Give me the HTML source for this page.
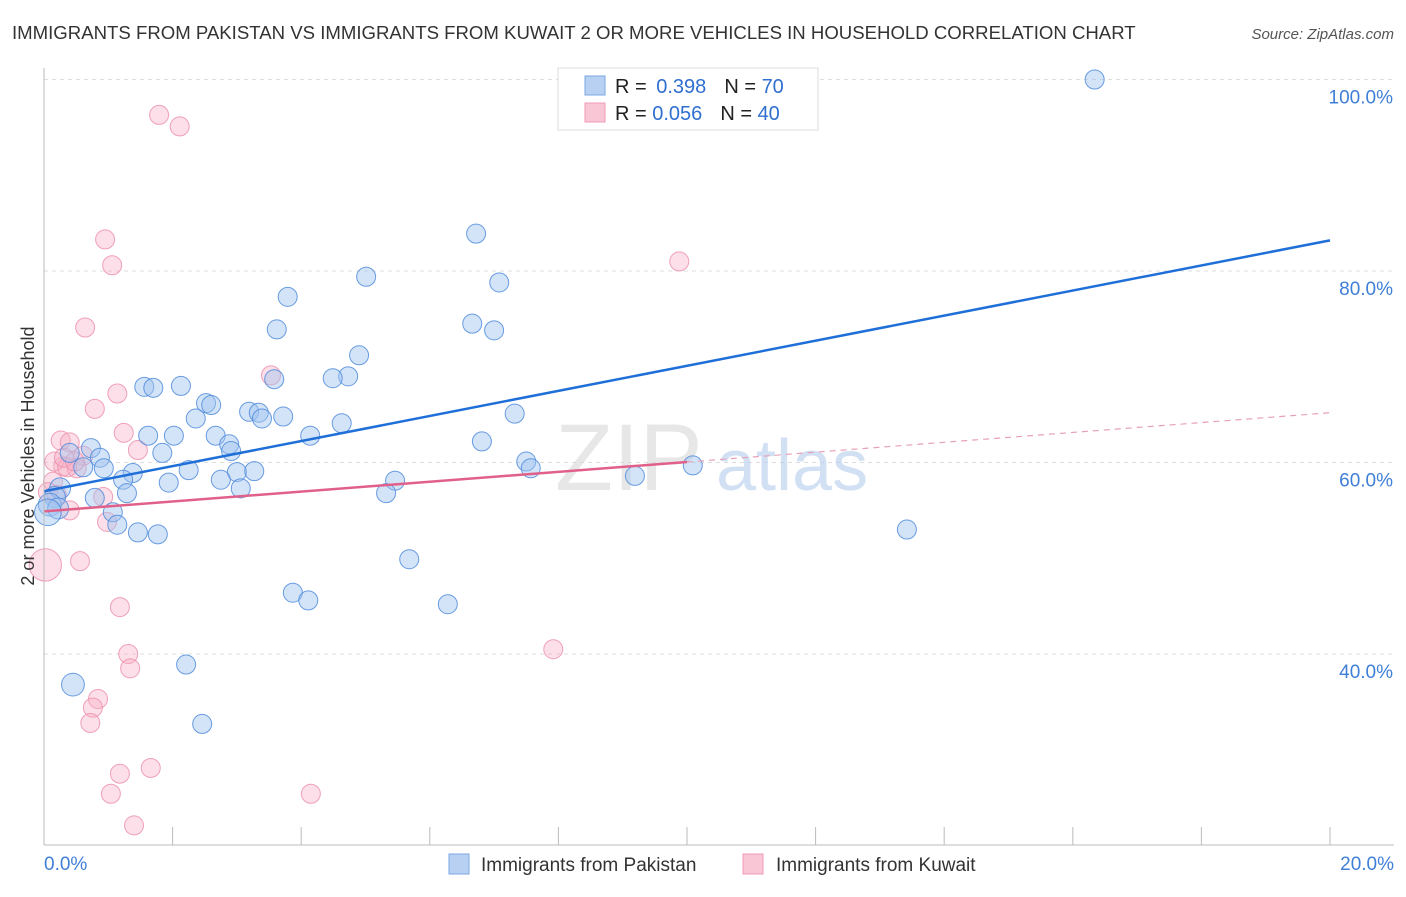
<!DOCTYPE html>
<html><head><meta charset="utf-8"><style>
body{margin:0;background:#fff;font-family:"Liberation Sans",sans-serif;}
svg text{font-family:"Liberation Sans",sans-serif;}
</style></head><body>
<svg id="chart" width="1406" height="892" viewBox="0 0 1406 892" xmlns="http://www.w3.org/2000/svg">
<text x="12" y="39" font-size="18.6" fill="#333">IMMIGRANTS FROM PAKISTAN VS IMMIGRANTS FROM KUWAIT 2 OR MORE VEHICLES IN HOUSEHOLD CORRELATION CHART</text>
<text x="1394" y="39" font-size="15" fill="#555" text-anchor="end" font-style="italic">Source: ZipAtlas.com</text>
<g id="grid"></g>
<g>
<text x="555" y="490" font-size="95" fill="#d8d8d8" font-family="Liberation Serif" opacity="0.6">ZIP</text>
<text x="716" y="490" font-size="72" fill="#b5cdee" opacity="0.6">atlas</text>
</g>
<g id="points"></g>
<g id="lines"></g>
<g id="axes"></g>
<text transform="translate(34,456) rotate(-90)" font-size="18" fill="#333" text-anchor="middle">2 or more Vehicles in Household</text>
<g>
<rect x="558" y="68" width="260" height="62" fill="#fff" stroke="#ddd"/>
<rect x="585" y="76" width="20" height="19" fill="#b8d1f3" stroke="#7aa7e3"/>
<rect x="585" y="103" width="20" height="19" fill="#f9c6d5" stroke="#f09ab5"/>
<text x="615" y="93" font-size="20" fill="#222">R = <tspan fill="#2f6fd0" dx="4">0.398</tspan><tspan dx="18">N = </tspan><tspan fill="#2f6fd0">70</tspan></text>
<text x="615" y="120" font-size="20" fill="#222">R = <tspan fill="#2f6fd0">0.056</tspan><tspan dx="18">N = </tspan><tspan fill="#2f6fd0">40</tspan></text>
</g>
<g>
<rect x="449" y="854" width="20" height="20" fill="#b8d1f3" stroke="#7aa7e3"/>
<text x="481" y="871" font-size="19" fill="#333">Immigrants from Pakistan</text>
<rect x="743" y="854" width="20" height="20" fill="#f9c6d5" stroke="#f09ab5"/>
<text x="776" y="871" font-size="19" fill="#333">Immigrants from Kuwait</text>
</g>
</svg>
<script>
const blueX=[16.34,6.72,7.08,5.01,3.79,3.62,6.66,7.00,4.90,4.73,4.49,3.58,1.56,1.70,2.13,2.52,2.60,3.19,3.34,3.39,3.72,2.36,4.63,7.32,1.62,2.02,2.67,4.14,2.88,2.91,1.84,6.81,0.73,0.40,0.87,0.61,0.93,2.25,1.38,3.00,3.27,1.23,1.94,2.75,5.46,7.50,7.57,9.19,10.09,1.29,0.79,3.06,5.32,0.25,0.17,0.09,0.22,0.06,1.07,1.14,1.46,1.77,5.68,13.42,3.87,4.11,6.28,2.21,0.45,2.46];
const blueY=[100.0,83.9,78.8,79.4,77.3,73.9,74.5,73.8,71.2,69.0,68.8,68.7,67.9,67.8,68.0,66.2,66.0,65.3,65.2,64.6,64.8,64.6,64.1,65.1,62.8,62.8,62.8,62.8,61.9,61.2,61.0,62.2,61.5,61.0,60.5,59.5,59.4,59.2,58.9,59.0,59.1,58.2,57.9,58.2,58.1,60.1,59.4,58.6,59.7,56.8,56.3,57.3,56.8,57.3,56.4,55.6,55.2,54.8,54.8,53.5,52.7,52.5,49.9,53.0,46.4,45.6,45.2,38.9,36.8,32.7];
const blueSize=[1,1,1,1,1,1,1,1,1,1,1,1,1,1,1,1,1,1,1,1,1,1,1,1,1,1,1,1,1,1,1,1,1,1,1,1,1,1,1,1,1,1,1,1,1,1,1,1,1,1,1,1,1,1.1,1.1,1.2,1.1,1.4,1,1,1,1,1,1,1,1,1,1,1.2,1];
const pinkX=[1.79,2.11,0.95,1.06,0.64,9.88,3.53,1.14,0.79,1.24,0.26,0.40,1.46,0.61,0.30,0.16,0.51,0.36,0.92,0.14,0.06,0.40,0.98,0.56,0.02,1.18,1.31,1.34,0.84,0.76,0.72,1.18,1.66,1.04,1.40,4.15,7.92,0.20,0.31,0.48];
const pinkY=[96.3,95.1,83.3,80.6,74.1,81.0,69.1,67.2,65.6,63.1,62.3,62.1,61.3,60.7,59.6,60.1,59.4,59.5,56.4,58.0,56.9,55.0,53.8,49.7,49.3,44.9,40.0,38.5,35.3,34.4,32.8,27.5,28.1,25.4,22.1,25.4,40.5,56.6,60.5,60.1];
const pinkSize=[1,1,1,1,1,1,1,1,1,1,1,1,1,1,1,1,1,1,1,1,1,1,1,1,1.7,1,1,1,1,1,1,1,1,1,1,1,1,1,1,1];
const blueTrend=[57.0,83.2];
const pinkTrend=[54.9,65.2];
const pinkSolidEnd=10;
const yTicks=[100,80,60,40];
const xTickLabels=["0.0%","20.0%"];
const NS="http://www.w3.org/2000/svg";
const X0=44,X1=1330,YT=79.5,YS=191.5/20;
function sx(v){return X0+(X1-X0)*v/20;}
function sy(v){return YT+(100-v)*YS;}
function mk(tag,attrs,parent){const e=document.createElementNS(NS,tag);for(const k in attrs)e.setAttribute(k,attrs[k]);parent.appendChild(e);return e;}
const grid=document.getElementById('grid'),axes=document.getElementById('axes'),pts=document.getElementById('points'),lines=document.getElementById('lines');
yTicks.forEach(t=>{
  const l=mk('line',{x1:44,x2:1394,y1:sy(t),y2:sy(t),stroke:'#ddd','stroke-dasharray':'4,4'},grid);
  
  
  const tx=mk('text',{x:1393,y:sy(t)+24,'font-size':19,fill:'#3f7fd8','text-anchor':'end'},axes);
  tx.textContent=t.toFixed(1)+'%';
  
  
});
mk('line',{x1:44,x2:44,y1:68,y2:845,stroke:'#bbb'},axes);
mk('line',{x1:44,x2:1394,y1:845,y2:845,stroke:'#bbb'},axes);
for(let i=0;i<=10;i++){mk('line',{x1:sx(i*2),x2:sx(i*2),y1:827,y2:845,stroke:'#bbb'},axes);}
[[0,'start',44],[1,'end',1394]].forEach(([i,a,x])=>{
  const t=mk('text',{x:x,y:870,'font-size':19,fill:'#3f7fd8','text-anchor':a},axes);
  t.textContent=xTickLabels[i];
  
  
});
function drawPts(xs,ys,ss,fill,stroke,name){
  xs.forEach((v,i)=>{
    const c=mk('circle',{cx:sx(v),cy:sy(ys[i]),r:9.5*ss[i],fill:fill,stroke:stroke,'stroke-width':1},pts);
    
    
  });
}
drawPts(pinkX,pinkY,pinkSize,'rgba(248,175,198,0.4)','rgba(236,140,170,0.8)','kuwait-point');
drawPts(blueX,blueY,blueSize,'rgba(160,195,240,0.45)','rgba(80,140,220,0.85)','pakistan-point');
const bl=mk('line',{x1:sx(0),y1:sy(blueTrend[0]),x2:sx(20),y2:sy(blueTrend[1]),stroke:'#1f6fd8','stroke-width':2.5},lines);


const pAt=x=>pinkTrend[0]+(pinkTrend[1]-pinkTrend[0])*x/20;
const pl=mk('line',{x1:sx(0),y1:sy(pAt(0)),x2:sx(pinkSolidEnd),y2:sy(pAt(pinkSolidEnd)),stroke:'#e0608a','stroke-width':2.5},lines);


const pd=mk('line',{x1:sx(pinkSolidEnd),y1:sy(pAt(pinkSolidEnd)),x2:sx(20),y2:sy(pAt(20)),stroke:'#e8a0b8','stroke-width':1.2,'stroke-dasharray':'6,5'},lines);


</script>
</body></html>
